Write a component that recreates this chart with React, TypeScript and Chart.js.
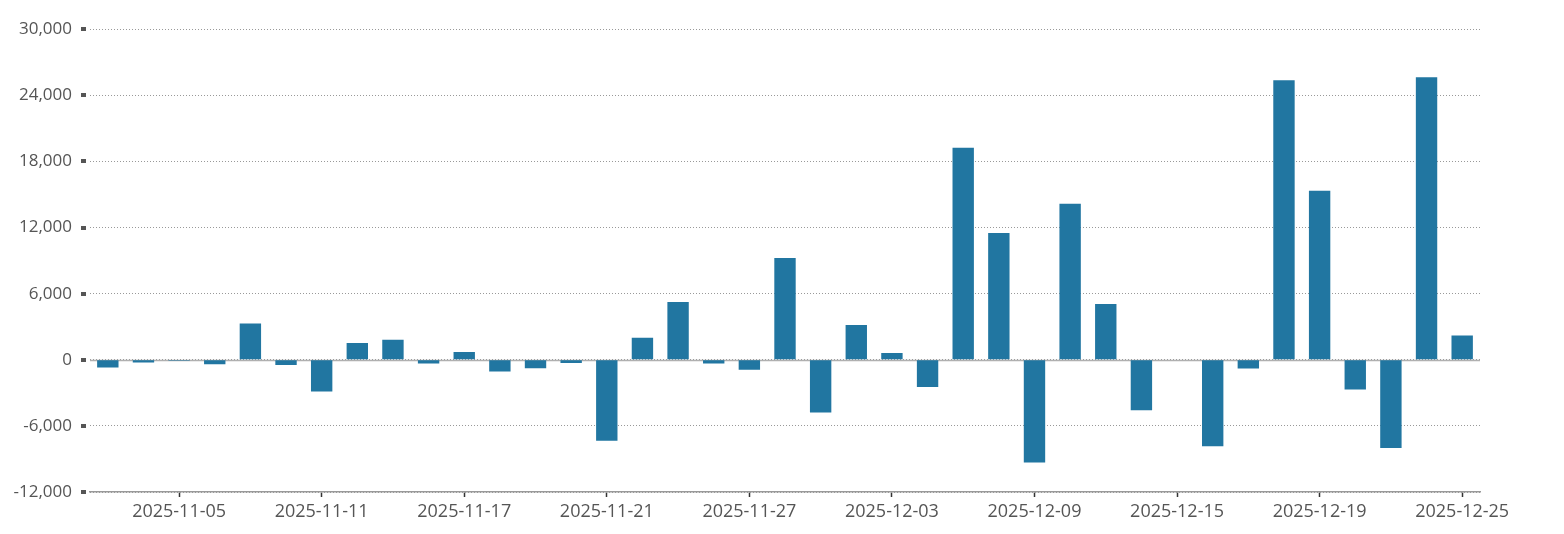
import React, { useEffect, useRef } from "react";
import { Chart, registerables } from "chart.js";

Chart.register(...registerables);

const dates: string[] = [
  "2025-11-03", "2025-11-04", "2025-11-05", "2025-11-06", "2025-11-07",
  "2025-11-10", "2025-11-11", "2025-11-12", "2025-11-13", "2025-11-14",
  "2025-11-17", "2025-11-18", "2025-11-19", "2025-11-20", "2025-11-21",
  "2025-11-24", "2025-11-25", "2025-11-26", "2025-11-27", "2025-11-28",
  "2025-12-01", "2025-12-02", "2025-12-03", "2025-12-04", "2025-12-05",
  "2025-12-08", "2025-12-09", "2025-12-10", "2025-12-11", "2025-12-12",
  "2025-12-15", "2025-12-16", "2025-12-17", "2025-12-18", "2025-12-19",
  "2025-12-22", "2025-12-23", "2025-12-24", "2025-12-25",
];

const values: number[] = [
  -700, -250, -100, -400, 3300,
  -480, -2880, 1520, 1820, -340,
  700, -1060, -760, -300, -7360,
  2000, 5240, -340, -910, 9240,
  -4790, 3150, 610, -2470, 19250,
  11510, -9330, 14150, 5060, -4580,
  -50, -7850, -790, 25360, 15330,
  -2700, -8000, 25640, 2210,
];

const yTicks: number[] = [-12000, -6000, 0, 6000, 12000, 18000, 24000, 30000];

const FONT = "'Open Sans', 'Noto Sans', sans-serif";

const decoPlugin = {
  id: "deco",
  beforeDatasetsDraw(chart: any) {
    const { ctx, chartArea, scales } = chart;
    const y = scales.y;
    ctx.save();
    ctx.setLineDash([]);
    // zero line
    const y0 = Math.round(y.getPixelForValue(0)) + 0.5;
    ctx.strokeStyle = "#b0b0b0";
    ctx.lineWidth = 1.5;
    ctx.beginPath();
    ctx.moveTo(chartArea.left, y0);
    ctx.lineTo(chartArea.right, y0);
    ctx.stroke();
    // y tick squares
    ctx.fillStyle = "#555";
    for (const v of yTicks) {
      const py = y.getPixelForValue(v);
      ctx.fillRect(chartArea.left - 9, Math.round(py) - 2, 5, 4);
    }
    ctx.restore();
  },
};

export default function App() {
  const ref = useRef<HTMLCanvasElement | null>(null);
  useEffect(() => {
    if (!ref.current) return;
    const chart = new Chart(ref.current, {
      type: "bar",
      data: {
        labels: dates,
        datasets: [
          {
            data: values,
            backgroundColor: "#2176a1",
            borderWidth: 0,
            barPercentage: 0.6,
            categoryPercentage: 1,
          },
        ],
      },
      options: {
        animation: false,
        responsive: true,
        maintainAspectRatio: false,
        layout: { padding: { top: 14, right: 76, left: 0, bottom: 0 } },
        plugins: { legend: { display: false }, tooltip: { enabled: false } },
        scales: {
          x: {
            grid: {
              offset: false,
              drawOnChartArea: false,
              drawTicks: true,
              tickLength: 5,
              tickWidth: 1.5,
              tickColor: (c: any) => (c.index % 4 === 2 ? "#333" : "rgba(0,0,0,0)"),
            },
            border: { display: true, color: "#999", width: 1.5 },
            ticks: {
              autoSkip: false,
              maxRotation: 0,
              minRotation: 0,
              padding: 4,
              color: "#555",
              font: { family: FONT, size: 18 },
              callback: (_v: any, i: number) => (i % 4 === 2 ? dates[i] : ""),
            },
            afterFit: (s: any) => {
              s.height = 42;
            },
          },
          y: {
            min: -12000,
            max: 30000,
            grid: {
              drawTicks: false,
              color: "#999",
              lineWidth: 1,
            },
            border: { display: false, dash: [1, 2] },
            ticks: {
              stepSize: 6000,
              padding: 18,
              color: "#555",
              font: { family: FONT, size: 17 },
              callback: (v: any) => Number(v).toLocaleString("en-US"),
            },
            afterFit: (s: any) => {
              s.width = 82;
            },
          },
        },
      },
      plugins: [decoPlugin],
    });
    return () => chart.destroy();
  }, []);
  return (
    <div style={{ width: 1548, height: 533, marginTop: -7, position: "relative" }}>
      <canvas ref={ref} />
    </div>
  );
}
